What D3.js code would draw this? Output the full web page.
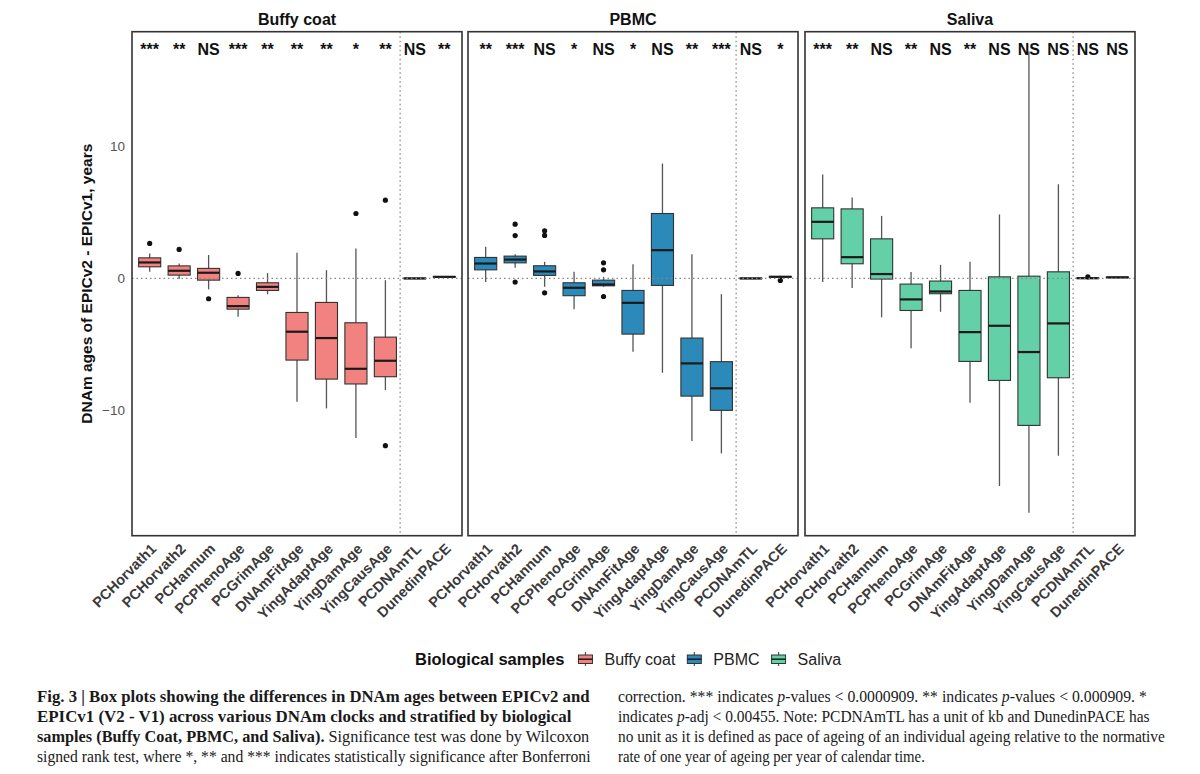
<!DOCTYPE html>
<html>
<head>
<meta charset="utf-8">
<script src="https://cdn.jsdelivr.net/npm/d3@7"></script>
<style>
  body { margin: 0; background: #fff; }
  svg { display: block; }
</style>
</head>
<body>
<div id="chart"></div>
<script>
// clocks on the x axis, same for every panel
const clocks = ["PCHorvath1", "PCHorvath2", "PCHannum", "PCPhenoAge", "PCGrimAge",
  "DNAmFitAge", "YingAdaptAge", "YingDamAge", "YingCausAge", "PCDNAmTL", "DunedinPACE"];
const samples = ["Buffy coat", "PBMC", "Saliva"];
const sampleColors = ["#f2827f", "#2b8ab9", "#63d0a8"];
const yTicks = [10, 0, -10];

// [lower whisker, q1, median, q3, upper whisker]
const buffyStats = [
  [0.5, 0.88, 1.21, 1.56, 1.89],
  [-0.05, 0.25, 0.58, 0.95, 1.14],
  [-0.83, -0.13, 0.43, 0.76, 1.77],
  [-2.9, -2.33, -2.1, -1.44, -1.27],
  [-1.21, -0.91, -0.64, -0.33, 0.4],
  [-9.35, -6.19, -4.04, -2.58, 1.94],
  [-9.85, -7.63, -4.52, -1.82, 0.63],
  [-12.1, -8.0, -6.85, -3.36, 2.27],
  [-8.46, -7.45, -6.24, -4.45, -0.13],
  [-0.04, -0.02, 0, 0.02, 0.04],
  [0.08, 0.1, 0.12, 0.14, 0.18]
];
const pbmcStats = [
  [-0.28, 0.65, 1.13, 1.59, 2.4],
  [0.8, 1.18, 1.43, 1.69, 1.84],
  [-0.63, 0.23, 0.53, 0.96, 1.26],
  [-2.33, -1.31, -0.71, -0.33, 0.5],
  [-0.63, -0.56, -0.46, -0.13, 0.12],
  [-5.56, -4.22, -1.85, -0.91, 1.08],
  [-7.15, -0.53, 2.14, 4.92, 8.71],
  [-12.33, -8.92, -6.44, -4.52, 1.84],
  [-13.26, -10.0, -8.33, -6.31, -1.19],
  [-0.04, -0.02, 0, 0.02, 0.04],
  [0.05, 0.1, 0.12, 0.15, 0.2]
];
const salivaStats = [
  [-0.28, 3.0, 4.29, 5.35, 7.88],
  [-0.73, 1.11, 1.61, 5.27, 6.14],
  [-2.95, -0.05, 0.33, 3.0, 4.74],
  [-5.3, -2.43, -1.59, -0.43, 0.48],
  [-2.53, -1.16, -0.99, -0.2, 1.03],
  [-9.42, -6.29, -4.07, -0.91, 1.26],
  [-15.73, -7.73, -3.59, 0.12, 4.85],
  [-17.76, -11.14, -5.58, 0.17, 17.2],
  [-13.44, -7.53, -3.41, 0.5, 7.14],
  [-0.04, -0.01, 0.02, 0.04, 0.06],
  [0.02, 0.05, 0.08, 0.1, 0.13]
];

const buffyOutliers = [[2.65], [2.2], [-1.54], [0.38], [], [], [], [4.92], [5.93, -12.68], [], []];
const pbmcOutliers = [[], [4.11, 3.25, -0.28], [3.61, 3.26, -1.09], [], [1.18, 0.65, -1.37], [], [], [], [], [], [-0.15]];
const salivaOutliers = [[], [], [], [], [], [], [], [], [], [0.12], []];

const buffySignif = ["***", "**", "NS", "***", "**", "**", "**", "*", "**", "NS", "**"];
const pbmcSignif = ["**", "***", "NS", "*", "NS", "*", "NS", "**", "***", "NS", "*"];
const salivaSignif = ["***", "**", "NS", "**", "NS", "**", "NS", "NS", "NS", "NS", "NS"];

const statsBySample = [buffyStats, pbmcStats, salivaStats];
const outliersBySample = [buffyOutliers, pbmcOutliers, salivaOutliers];
const signifBySample = [buffySignif, pbmcSignif, salivaSignif];

const width = 1200, height = 774;
const panelTop = 31.7, panelBottom = 535.7;
const panelLefts = [132, 468, 805];
const panelW = 330;
const font = "'Liberation Sans', Arial, sans-serif";
const serif = "'Liberation Serif', 'Times New Roman', serif";

const svg = d3.select("#chart").append("svg")
  .attr("width", width)
  .attr("height", height);

const y = d3.scaleLinear().domain([-19.5, 18.7]).range([panelBottom, panelTop]);

// y axis
const yAxis = svg.append("g")
  .attr("transform", "translate(" + panelLefts[0] + ",0)")
  .call(d3.axisLeft(y).tickValues(yTicks).tickSize(0).tickPadding(7));
yAxis.select(".domain").remove();
yAxis.selectAll("text")
  .style("font-family", font)
  .style("font-size", "13.5px")
  .style("fill", "#555");

svg.append("text")
  .attr("transform", "translate(92," + (panelTop + panelBottom) / 2 + ") rotate(-90)")
  .attr("text-anchor", "middle")
  .style("font-family", font)
  .style("font-size", "15.5px")
  .style("font-weight", "bold")
  .style("fill", "#111")
  .text("DNAm ages of EPICv2 - EPICv1, years");

samples.forEach(function (sample, si) {
  const left = panelLefts[si];
  const x = d3.scalePoint().domain(clocks).range([left, left + panelW]).padding(0.6);
  const boxW = x.step() * 0.75;
  const g = svg.append("g");

  // strip title
  g.append("text")
    .attr("x", left + panelW / 2)
    .attr("y", 25)
    .attr("text-anchor", "middle")
    .style("font-family", font)
    .style("font-size", "16px")
    .style("font-weight", "bold")
    .style("fill", "#111")
    .text(sample);

  const stats = statsBySample[si];

  // whiskers
  g.selectAll(".whisker")
    .data(stats)
    .join("line")
    .attr("x1", (d, i) => x(clocks[i]))
    .attr("x2", (d, i) => x(clocks[i]))
    .attr("y1", d => y(d[0]))
    .attr("y2", d => y(d[4]))
    .style("stroke", "#555")
    .style("stroke-width", 1.3);

  // boxes
  g.selectAll(".box")
    .data(stats)
    .join("rect")
    .attr("x", (d, i) => x(clocks[i]) - boxW / 2)
    .attr("width", boxW)
    .attr("y", d => y(d[3]))
    .attr("height", d => Math.max(y(d[1]) - y(d[3]), 0.5))
    .style("fill", sampleColors[si])
    .style("stroke", "#333")
    .style("stroke-width", 1.1);

  // medians
  g.selectAll(".median")
    .data(stats)
    .join("line")
    .attr("x1", (d, i) => x(clocks[i]) - boxW / 2)
    .attr("x2", (d, i) => x(clocks[i]) + boxW / 2)
    .attr("y1", d => y(d[2]))
    .attr("y2", d => y(d[2]))
    .style("stroke", "#1a1a1a")
    .style("stroke-width", 2.2);

  // outliers
  const pts = [];
  outliersBySample[si].forEach((arr, i) => arr.forEach(v => pts.push({ clock: clocks[i], v: v })));
  g.selectAll(".outlier")
    .data(pts)
    .join("circle")
    .attr("cx", d => x(d.clock))
    .attr("cy", d => y(d.v))
    .attr("r", 2.6)
    .style("fill", "#111");

  // reference lines on top
  g.append("line")
    .attr("x1", left).attr("x2", left + panelW)
    .attr("y1", y(0)).attr("y2", y(0))
    .style("stroke", "#888")
    .style("stroke-width", 1.3)
    .style("stroke-dasharray", "1.5,3");

  const sep = (x(clocks[8]) + x(clocks[9])) / 2;
  g.append("line")
    .attr("x1", sep).attr("x2", sep)
    .attr("y1", panelTop).attr("y2", panelBottom)
    .style("stroke", "#888")
    .style("stroke-width", 1.3)
    .style("stroke-dasharray", "1.5,3");

  // significance labels
  g.selectAll(".sig")
    .data(signifBySample[si])
    .join("text")
    .attr("x", (d, i) => x(clocks[i]))
    .attr("y", 55)
    .attr("text-anchor", "middle")
    .style("font-family", font)
    .style("font-weight", "bold")
    .style("font-size", "16px")
    .style("fill", "#111")
    .text(d => d);

  // frame
  g.append("rect")
    .attr("x", left).attr("y", panelTop)
    .attr("width", panelW).attr("height", panelBottom - panelTop)
    .style("fill", "none")
    .style("stroke", "#333")
    .style("stroke-width", 1.6);

  // x axis
  const xAxis = g.append("g")
    .attr("transform", "translate(0," + panelBottom + ")")
    .call(d3.axisBottom(x).tickSize(0));
  xAxis.select(".domain").remove();
  xAxis.selectAll("text")
    .attr("x", 0).attr("y", 0).attr("dy", 0)
    .attr("transform", "translate(7,14) rotate(-45)")
    .attr("text-anchor", "end")
    .style("font-family", font)
    .style("font-size", "14.5px")
    .style("font-weight", "bold")
    .style("fill", "#3a3a3a");
});

// legend
const legend = svg.append("g").attr("transform", "translate(415,665)");
const legTitle = legend.append("text")
  .style("font-family", font)
  .style("font-size", "16.5px")
  .style("font-weight", "bold")
  .style("fill", "#111")
  .text("Biological samples");
let lx = legTitle.node().getComputedTextLength() + 13;
samples.forEach(function (sample, si) {
  const key = legend.append("g").attr("transform", "translate(" + lx + ",-13)");
  key.append("line").attr("x1", 8).attr("x2", 8).attr("y1", 0).attr("y2", 14)
    .style("stroke", "#555").style("stroke-width", 1.2);
  key.append("rect").attr("x", 1).attr("y", 3).attr("width", 14).attr("height", 8.5)
    .style("fill", sampleColors[si]).style("stroke", "#333").style("stroke-width", 1);
  key.append("line").attr("x1", 1).attr("x2", 15).attr("y1", 7.2).attr("y2", 7.2)
    .style("stroke", "#1a1a1a").style("stroke-width", 1.5);
  const t = legend.append("text")
    .attr("x", lx + 27)
    .style("font-family", font)
    .style("font-size", "16px")
    .style("fill", "#222")
    .text(sample);
  lx += 27 + t.node().getComputedTextLength() + 11;
});

// caption, each line squeezed to the width it has in the figure
const captionLeft = [
  { len: 553, parts: [["Fig. 3 | Box plots showing the differences in DNAm ages between EPICv2 and", "b"]] },
  { len: 535, parts: [["EPICv1 (V2 - V1) across various DNAm clocks and stratified by biological", "b"]] },
  { len: 553, parts: [["samples (Buffy Coat, PBMC, and Saliva).", "b"], [" Significance test was done by Wilcoxon", "r"]] },
  { len: 554, parts: [["signed rank test, where *, ** and *** indicates statistically significance after Bonferroni", "r"]] }
];
const captionRight = [
  { len: 529, parts: [["correction. *** indicates ", "r"], ["p", "i"], ["-values < 0.0000909. ** indicates ", "r"], ["p", "i"], ["-values < 0.000909. *", "r"]] },
  { len: 532, parts: [["indicates ", "r"], ["p", "i"], ["-adj < 0.00455. Note: PCDNAmTL has a unit of kb and DunedinPACE has", "r"]] },
  { len: 547, parts: [["no unit as it is defined as pace of ageing of an individual ageing relative to the normative", "r"]] },
  { len: 307, parts: [["rate of one year of ageing per year of calendar time.", "r"]] }
];
const baselines = [702, 722, 742, 761.5];

function drawCaption(lines, x0) {
  lines.forEach(function (line, li) {
    const g = svg.append("g");
    const t = g.append("text")
      .style("font-family", serif)
      .style("font-size", "16px")
      .style("fill", "#1a1a1a");
    line.parts.forEach(function (p) {
      t.append("tspan")
        .style("font-weight", p[1] === "b" ? "bold" : "normal")
        .style("font-style", p[1] === "i" ? "italic" : "normal")
        .text(p[0]);
    });
    const natural = t.node().getComputedTextLength();
    g.attr("transform", "translate(" + x0 + "," + baselines[li] + ") scale(" + (line.len / natural) + ",1)");
  });
}
drawCaption(captionLeft, 37);
drawCaption(captionRight, 618);
</script>
</body>
</html>
